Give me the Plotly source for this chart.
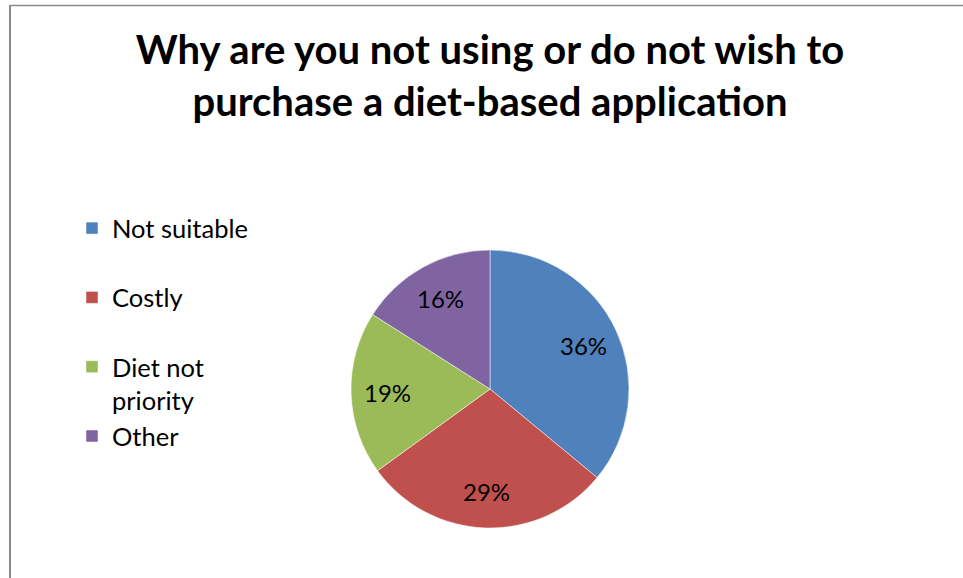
import math
import plotly.graph_objects as go

W, H = 963, 578

categories = ["Not suitable", "Costly", "Diet not priority", "Other"]
legend_labels = ["Not suitable<br>&nbsp;", "Costly<br>&nbsp;", "Diet not<br>priority", "Other"]
values = [36, 29, 19, 16]
colors = ["#4F81BD", "#C0504D", "#9BBB59", "#8064A2"]
title_lines = ["Why are you not using or do not wish to", "purchase a diet-based application"]

FONT = "Lato"

# pie placement (pixels)
CX, CY, R = 490, 389, 139
dom_x = [(CX - R) / W, (CX + R) / W]
dom_y = [1 - (CY + R) / H, 1 - (CY - R) / H]

fig = go.Figure(go.Pie(
    labels=legend_labels,
    values=values,
    sort=False,
    direction="clockwise",
    rotation=0,
    marker=dict(colors=colors, line=dict(color="white", width=0.5)),
    textinfo="none",
    hovertext=categories,
    domain=dict(x=dom_x, y=dom_y),
))

# percentage labels, placed from the data at the slice mid-angles
total = sum(values)
annotations = []
cum = 0
for v in values:
    mid = (cum + v / 2) / total * 2 * math.pi
    cum += v
    r = 0.74 * R
    px = CX + r * math.sin(mid)
    py = CY - r * math.cos(mid)
    annotations.append(dict(
        x=px / W, y=1 - py / H, xref="paper", yref="paper",
        text=f"{round(100 * v / total)}%", showarrow=False,
        xanchor="center", yanchor="middle",
        font=dict(family=FONT, size=24, color="black"),
    ))

fig.update_layout(
    width=W, height=H,
    margin=dict(l=0, r=0, t=0, b=0),
    paper_bgcolor="white",
    plot_bgcolor="white",
    font=dict(family=FONT, color="black"),
    title=dict(
        text="<b>" + "<br>".join(title_lines) + "</b>",
        x=490 / W, xanchor="center",
        y=1 - 64 / H, yanchor="top",
        font=dict(family=FONT, size=40, color="black"),
    ),
    legend=dict(
        x=72 / W, xanchor="left",
        y=1 - 205 / H, yanchor="top",
        font=dict(family=FONT, size=25.5, color="black"),
        valign="top",
        bgcolor="rgba(0,0,0,0)",
    ),
    showlegend=True,
    annotations=annotations,
    shapes=[
        dict(type="line", xref="paper", yref="paper", x0=10 / W, x1=1.0, y0=1 - 5.5 / H, y1=1 - 5.5 / H,
             line=dict(color="#8a8a8a", width=1.5)),
        dict(type="line", xref="paper", yref="paper", x0=10 / W, x1=10 / W, y0=0, y1=1 - 5 / H,
             line=dict(color="#8a8a8a", width=2)),
    ],
)

fig.write_html("out.html", config={"displayModeBar": False},
               post_script="document.body.style.margin='0px';")
